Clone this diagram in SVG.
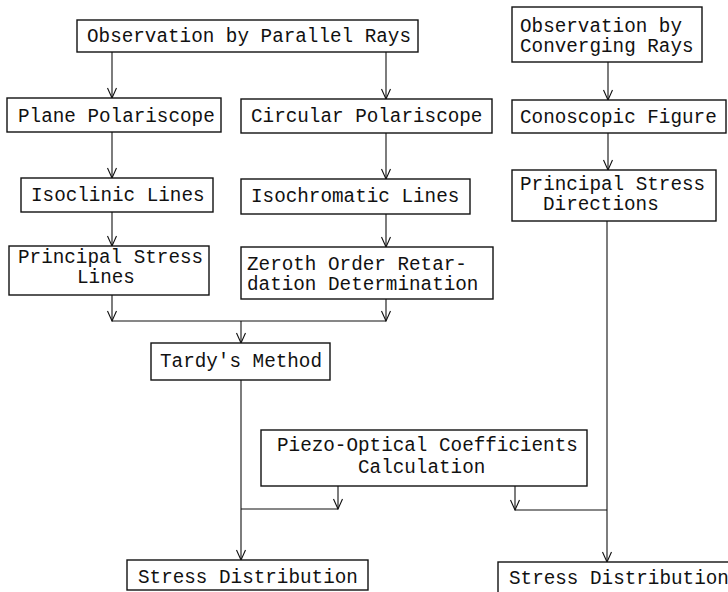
<svg xmlns="http://www.w3.org/2000/svg" width="728" height="592" viewBox="0 0 728 592">
<style>
.box{fill:#fff;stroke:#111;stroke-width:1.4}
.t{font-family:"Liberation Mono","Courier New",monospace;font-size:19.3px;fill:#111}
.c{fill:none;stroke:#111;stroke-width:1.1}
</style>
<defs>
<marker id="ar" viewBox="-12 -6 13 12" markerWidth="13" markerHeight="12" refX="0" refY="0" orient="auto" markerUnits="userSpaceOnUse">
<path d="M-10,-4.5 L0,0 L-10,4.5" fill="none" stroke="#111" stroke-width="1.1"/>
</marker>
</defs>
<rect width="728" height="592" fill="#fff"/>
<g id="connectors">
<line class="c" x1="112" y1="52" x2="112" y2="98" marker-end="url(#ar)"/>
<line class="c" x1="386" y1="52" x2="386" y2="99" marker-end="url(#ar)"/>
<line class="c" x1="608" y1="62" x2="608" y2="100" marker-end="url(#ar)"/>
<line class="c" x1="112" y1="132" x2="112" y2="178" marker-end="url(#ar)"/>
<line class="c" x1="386" y1="133" x2="386" y2="179" marker-end="url(#ar)"/>
<line class="c" x1="608" y1="133" x2="608" y2="170" marker-end="url(#ar)"/>
<line class="c" x1="112" y1="212" x2="112" y2="246" marker-end="url(#ar)"/>
<line class="c" x1="386" y1="214" x2="386" y2="247" marker-end="url(#ar)"/>
<line class="c" x1="112" y1="295" x2="112" y2="321" marker-end="url(#ar)"/>
<line class="c" x1="386" y1="299" x2="386" y2="321" marker-end="url(#ar)"/>
<line class="c" x1="112" y1="321" x2="386" y2="321"/>
<line class="c" x1="241" y1="321" x2="241" y2="343" marker-end="url(#ar)"/>
<line class="c" x1="241" y1="380" x2="241" y2="560" marker-end="url(#ar)"/>
<line class="c" x1="241" y1="509" x2="338" y2="509"/>
<line class="c" x1="338" y1="486" x2="338" y2="509" marker-end="url(#ar)"/>
<line class="c" x1="515" y1="486" x2="515" y2="510" marker-end="url(#ar)"/>
<line class="c" x1="515" y1="510" x2="607" y2="510"/>
<line class="c" x1="607" y1="221" x2="607" y2="562" marker-end="url(#ar)"/>
</g>
<g id="parallel">
<rect class="box" x="77" y="20" width="341" height="32"/>
<text class="t" x="87" y="42">Observation by Parallel Rays</text>
</g>
<g id="converging">
<rect class="box" x="512" y="7" width="190" height="55"/>
<text class="t" x="520" y="32">Observation by</text>
<text class="t" x="520" y="52">Converging Rays</text>
</g>
<g id="plane">
<rect class="box" x="7" y="98" width="214" height="34"/>
<text class="t" x="18" y="122">Plane Polariscope</text>
</g>
<g id="circular">
<rect class="box" x="241" y="99" width="251" height="34"/>
<text class="t" x="251" y="122">Circular Polariscope</text>
</g>
<g id="conoscopic">
<rect class="box" x="512" y="100" width="214" height="33"/>
<text class="t" x="520" y="123">Conoscopic Figure</text>
</g>
<g id="isoclinic">
<rect class="box" x="21" y="178" width="192" height="34"/>
<text class="t" x="31" y="201">Isoclinic Lines</text>
</g>
<g id="isochromatic">
<rect class="box" x="241" y="179" width="229" height="35"/>
<text class="t" x="251" y="202">Isochromatic Lines</text>
</g>
<g id="psdirections">
<rect class="box" x="512" y="170" width="204" height="51"/>
<text class="t" x="520" y="190">Principal Stress</text>
<text class="t" x="543" y="210">Directions</text>
</g>
<g id="pslines">
<rect class="box" x="9" y="246" width="200" height="49"/>
<text class="t" x="18" y="263">Principal Stress</text>
<text class="t" x="77" y="283">Lines</text>
</g>
<g id="zeroth">
<rect class="box" x="241" y="247" width="252" height="52"/>
<text class="t" x="247" y="270">Zeroth Order Retar-</text>
<text class="t" x="247" y="290">dation Determination</text>
</g>
<g id="tardy">
<rect class="box" x="151" y="343" width="179" height="37"/>
<text class="t" x="160" y="367">Tardy's Method</text>
</g>
<g id="piezo">
<rect class="box" x="261" y="430" width="326" height="56"/>
<text class="t" x="277" y="451">Piezo-Optical Coefficients</text>
<text class="t" x="358" y="473">Calculation</text>
</g>
<g id="stress1">
<rect class="box" x="127" y="560" width="241" height="30"/>
<text class="t" x="138" y="583">Stress Distribution</text>
</g>
<g id="stress2">
<rect class="box" x="498" y="562" width="240" height="40"/>
<text class="t" x="509" y="584">Stress Distribution</text>
</g>
</svg>
